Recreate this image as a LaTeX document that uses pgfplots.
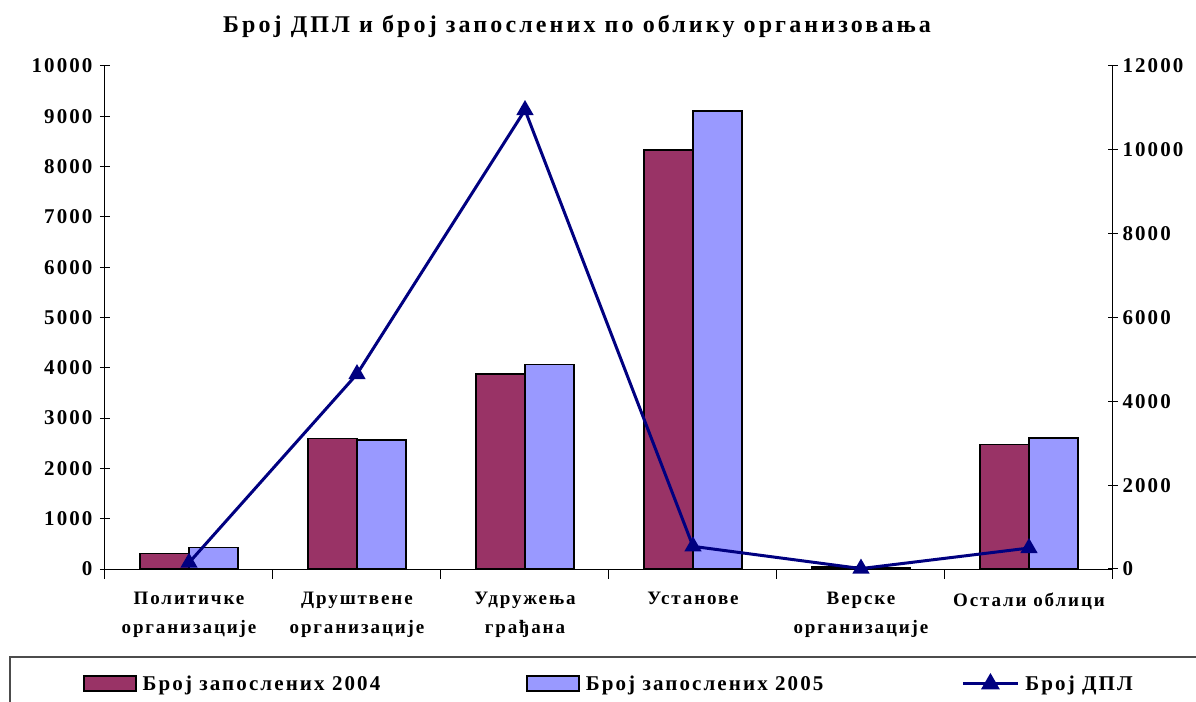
\documentclass[border=0pt]{standalone}
\usepackage{pgfplots}
\pgfplotsset{compat=1.18}
\usepackage{fontspec}
\setmainfont{Liberation Serif}[LetterSpace=10]
\definecolor{maroon}{HTML}{993366}
\definecolor{lav}{HTML}{9999FF}
\definecolor{navy}{HTML}{000080}
\newcommand{\lblfont}{\bfseries\fontsize{19bp}{29bp}\selectfont}
\newcommand{\numfont}{\bfseries\fontsize{21bp}{25bp}\selectfont}
\begin{document}
\begin{tikzpicture}
\useasboundingbox (0bp,0bp) rectangle (1196bp,702bp);
\node[font=\bfseries\fontsize{24bp}{28bp}\selectfont\addfontfeature{LetterSpace=13}] at (577bp,675bp) {Број ДПЛ и број запослених по облику организовања};
\draw[line width=1.5bp, black!70] (10bp,-20bp) rectangle (1220bp,45bp);
\begin{axis}[
  at={(105bp,133bp)}, anchor=south west,
  scale only axis, width=1008bp, height=503bp,
  xmin=-0.5, xmax=5.5, ymin=0, ymax=10000,
  axis x line*=bottom, axis y line*=left,
  axis line style={line width=1bp, black},
  ytick={0,1000,...,10000},
  scaled y ticks=false,
  xtick={0,...,5},
  xticklabels={{Политичке\\организације},{Друштвене\\организације},{Удружења\\грађана},{Установе},{Верске\\организације},{Остали облици}},
  minor xtick={-0.5,0.5,1.5,2.5,3.5,4.5,5.5},
  major x tick style={draw=none},
  minor x tick style={black, line width=1bp},
  y tick style={black, line width=1bp},
  tick align=center, major tick length=10bp, minor tick length=10bp,
  xticklabel style={font=\lblfont, align=center, anchor=north, yshift=-10bp},
  yticklabel style={font=\numfont, xshift=-4bp},
  /pgf/number format/assume math mode=true,
  /pgf/number format/1000 sep={},
  ybar=0pt, bar width=49bp,
  legend columns=3,
  legend style={at={(0.5,-0.2286)}, anchor=center, draw=none, fill=none,
    font=\numfont,
    /tikz/every odd column/.style={column sep=4bp},
    /tikz/column 2/.style={column sep=144bp},
    /tikz/column 4/.style={column sep=136bp}},
  legend cell align=left,
]
\addplot[fill=maroon, draw=black, line width=1.5bp,
  legend image code/.code={\draw[fill=maroon, draw=black, line width=1.5bp] (0bp,-7bp) rectangle (52bp,8bp);}]
  coordinates {(0,310) (1,2590) (2,3880) (3,8330) (4,35) (5,2480)};
\addlegendentry{Број запослених 2004}
\addplot[fill=lav, draw=black, line width=1.5bp,
  legend image code/.code={\draw[fill=lav, draw=black, line width=1.5bp] (0bp,-7bp) rectangle (52bp,8bp);}]
  coordinates {(0,430) (1,2565) (2,4070) (3,9110) (4,30) (5,2600)};
\addlegendentry{Број запослених 2005}
\addlegendimage{navy, line width=3bp,
  legend image code/.code={\draw[navy, line width=3bp] (0bp,0bp) -- (55bp,0bp); \fill[navy] (27.5bp,0bp) +(90:8bp) -- +(210:8bp) -- +(330:8bp) -- cycle;}}
\addlegendentry{Број ДПЛ}
\end{axis}
\begin{axis}[
  at={(105bp,133bp)}, anchor=south west,
  scale only axis, width=1008bp, height=503bp,
  xmin=-0.5, xmax=5.5, ymin=0, ymax=12000,
  axis x line=none, axis y line*=right,
  axis line style={line width=1bp, black},
  ytick={0,2000,...,12000},
  scaled y ticks=false,
  y tick style={black, line width=1bp},
  tick align=center, major tick length=10bp,
  yticklabel style={font=\numfont, xshift=1bp},
  /pgf/number format/assume math mode=true,
  /pgf/number format/1000 sep={},
  clip=false,
]
\addplot[navy, line width=3bp, mark=triangle*, mark size=7bp]
  coordinates {(0,150) (1,4650) (2,10950) (3,540) (4,10) (5,500)};
\end{axis}
\end{tikzpicture}
\end{document}
